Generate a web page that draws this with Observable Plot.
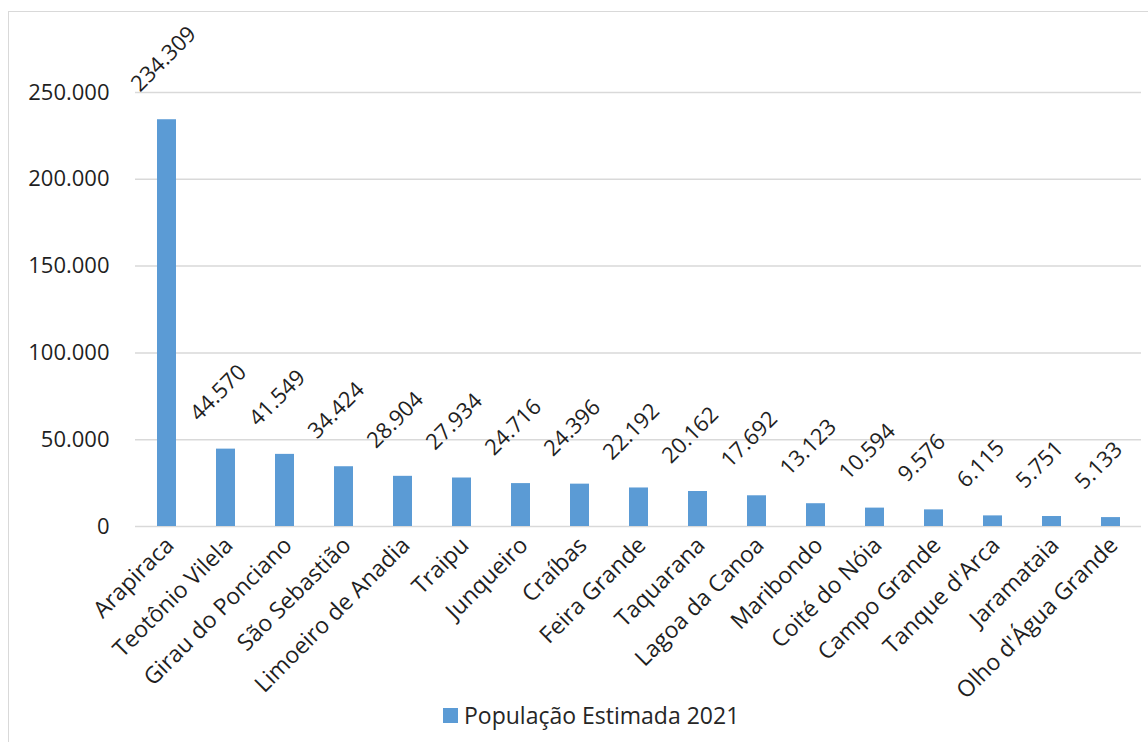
<!DOCTYPE html>
<html>
<head>
<meta charset="utf-8">
<script src="https://cdn.jsdelivr.net/npm/d3@7"></script>
<script src="https://cdn.jsdelivr.net/npm/@observablehq/plot@0.6"></script>
<style>
  html, body { margin: 0; padding: 0; background: #fff; overflow: hidden; }
  body { width: 1148px; height: 742px; position: relative; font-family: "Open Sans", sans-serif; }
  #frame { position: absolute; left: 8px; top: 11px; width: 1200px; height: 800px; border: 1.5px solid #d9d9d9; box-sizing: border-box; }
  #chart { position: absolute; left: 0; top: 0; }
  #legend { position: absolute; left: 443px; top: 699px; font-size: 23px; color: #262626; display: flex; align-items: center; }
  #legend .sw { width: 15px; height: 15px; background: #5b9bd5; margin-right: 6px; }
</style>
</head>
<body>
<div id="frame"></div>
<div id="chart"></div>
<div id="legend"><span class="sw"></span><span>População Estimada 2021</span></div>
<script>
const cities = ["Arapiraca", "Teotônio Vilela", "Girau do Ponciano", "São Sebastião", "Limoeiro de Anadia", "Traipu", "Junqueiro", "Craíbas", "Feira Grande", "Taquarana", "Lagoa da Canoa", "Maribondo", "Coité do Nóia", "Campo Grande", "Tanque d'Arca", "Jaramataia", "Olho d'Água Grande"];
const population = [234309, 44570, 41549, 34424, 28904, 27934, 24716, 24396, 22192, 20162, 17692, 13123, 10594, 9576, 6115, 5751, 5133];
const yTicks = [0, 50000, 100000, 150000, 200000, 250000];

const locale = d3.formatLocale({decimal: ",", thousands: ".", grouping: [3], currency: ["R$", ""]});
const fmt = locale.format(",d");

const data = cities.map((c, i) => ({city: c, value: population[i]}));
const font = "Open Sans, sans-serif";
const ink = "#1f1f1f";

const chart = Plot.plot({
  width: 1148,
  height: 700,
  marginLeft: 135,
  marginRight: 7,
  marginTop: 92,
  marginBottom: 174,
  style: {fontFamily: font, background: "transparent", overflow: "visible"},
  x: {domain: cities, paddingInner: 0.68, paddingOuter: 0.34, axis: null},
  y: {domain: [0, 250000], axis: null},
  marks: [
    Plot.ruleY(yTicks, {stroke: "#d9d9d9", strokeWidth: 1.5}),
    Plot.barY(data, {x: "city", y: "value", fill: "#5b9bd5"}),
    Plot.text(yTicks, {y: d => d, text: d => fmt(d), frameAnchor: "left", textAnchor: "end", dx: -26, fontSize: 22, fill: ink}),
    Plot.text(cities, {x: d => d, frameAnchor: "bottom", textAnchor: "end", lineAnchor: "middle", rotate: -45, dx: 3, dy: 15, fontSize: 23, fill: ink}),
    Plot.text(data, {x: "city", y: "value", text: d => fmt(d.value), textAnchor: "start", lineAnchor: "bottom", rotate: -45, dx: -27, dy: -27, fontSize: 22, fill: ink})
  ]
});
document.getElementById("chart").appendChild(chart);
</script>
</body>
</html>
